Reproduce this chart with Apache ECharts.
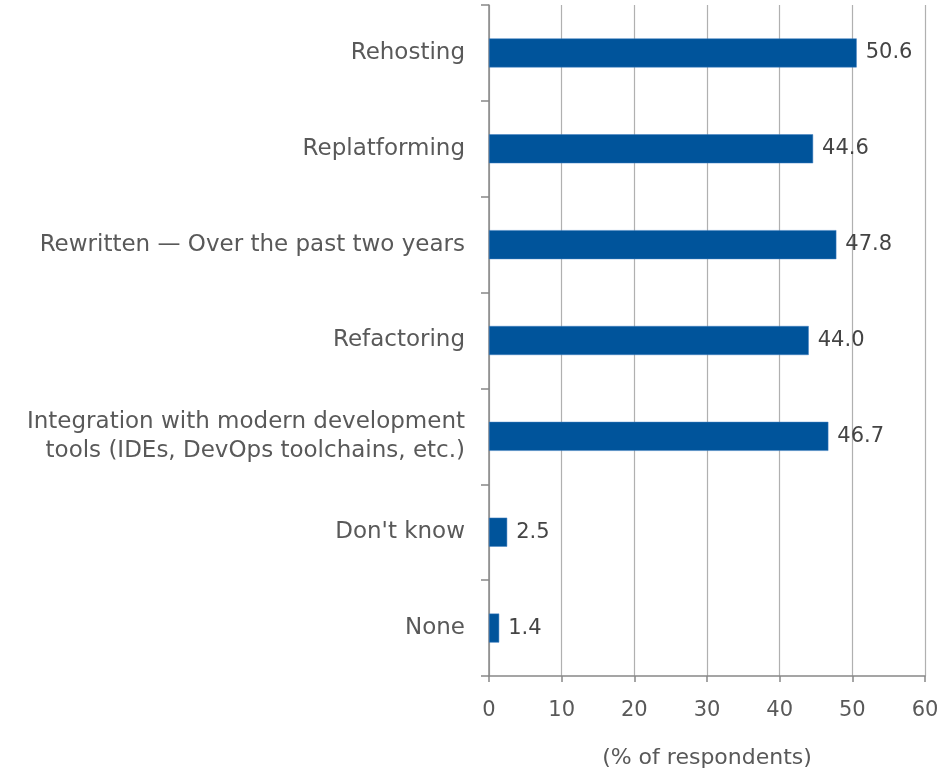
<!DOCTYPE html>
<html>
<head>
<meta charset="utf-8">
<script src="https://cdn.jsdelivr.net/npm/echarts@6/dist/echarts.min.js"></script>
<style>html,body{margin:0;padding:0;background:#fff;}#c{width:943px;height:780px;}</style>
</head>
<body>
<div id="c"></div>
<script>
const categories = [
  "Rehosting",
  "Replatforming",
  "Rewritten \u2014 Over the past two years",
  "Refactoring",
  "Integration with modern development\ntools (IDEs, DevOps toolchains, etc.)",
  "Don't know",
  "None"
];
const values = [50.6, 44.6, 47.8, 44.0, 46.7, 2.5, 1.4];
const xTicks = [0, 10, 20, 30, 40, 50, 60];

const chart = echarts.init(document.getElementById('c'), null, {renderer: 'canvas'});
const font = '"DejaVu Sans", Verdana, sans-serif';
chart.setOption({
  animation: false,
  grid: {left: 489, right: 18, top: 5, bottom: 104, containLabel: false},
  xAxis: {
    type: 'value', min: xTicks[0], max: xTicks[xTicks.length - 1], interval: 10,
    name: '(% of respondents)', nameLocation: 'middle', nameGap: 71,
    nameTextStyle: {color: '#595959', fontSize: 22, fontFamily: font},
    axisLine: {show: true, lineStyle: {color: '#888', width: 1.5}},
    axisTick: {show: true, length: 6, lineStyle: {color: '#888', width: 1.5}},
    axisLabel: {color: '#595959', fontSize: 21, fontFamily: font, margin: 24},
    splitLine: {show: true, lineStyle: {color: '#b0b0b0', width: 1.2}}
  },
  yAxis: {
    type: 'category', data: categories, inverse: true,
    axisLine: {show: true, lineStyle: {color: '#888', width: 1.5}},
    axisTick: {show: true, length: 8, lineStyle: {color: '#888', width: 1.5}},
    axisLabel: {color: '#595959', fontSize: 23, fontFamily: font, margin: 24, lineHeight: 29, align: 'right'},
    splitLine: {show: false}
  },
  series: [{
    type: 'bar', data: values, barWidth: 29,
    itemStyle: {color: '#00549b', borderColor: '#3f7fc0', borderWidth: 0.5},
    label: {show: true, position: 'right', distance: 9, color: '#444', fontSize: 21, fontFamily: font,
      formatter: p => p.value.toFixed(1)}
  }]
});
</script>
</body>
</html>
